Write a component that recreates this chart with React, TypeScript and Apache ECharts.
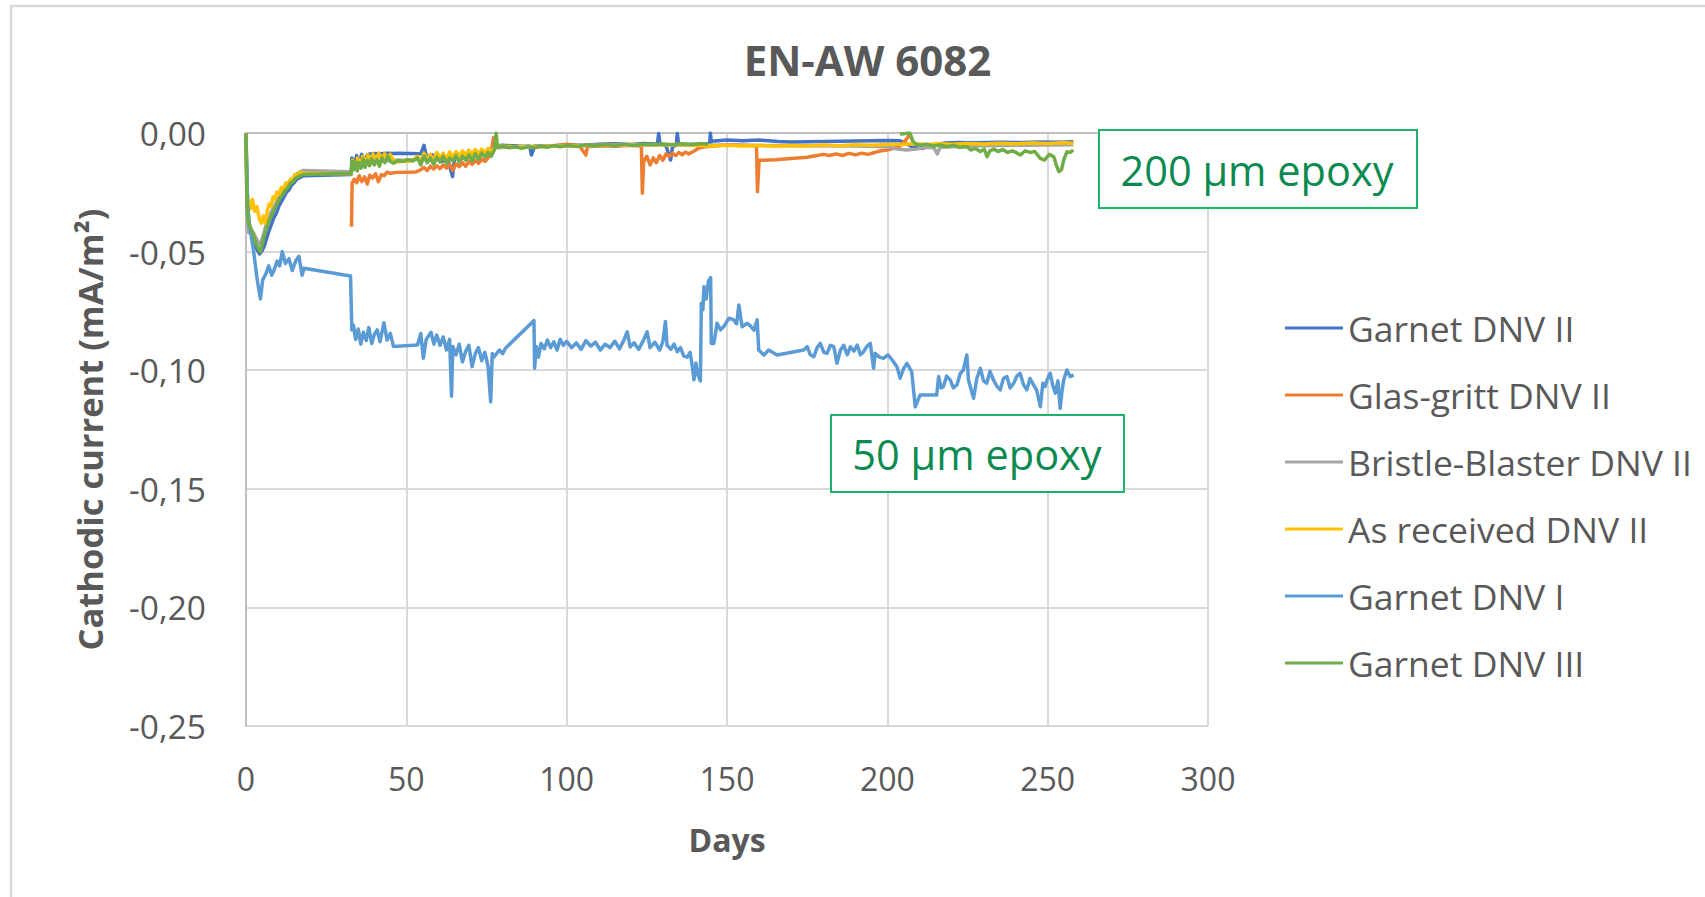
import React, { useEffect, useRef } from "react";
import * as echarts from "echarts";

const chartTitle = "EN-AW 6082";
const xAxisName = "Days";
const yAxisName = "Cathodic current (mA/m²)";
const seriesNames = [
  "Garnet DNV II",
  "Glas-gritt DNV II",
  "Bristle-Blaster DNV II",
  "As received DNV II",
  "Garnet DNV I",
  "Garnet DNV III",
];
const seriesColors = ["#4472c4", "#ed7d31", "#a5a5a5", "#ffc000", "#5b9bd5", "#70ad47"];
const annotationTexts = ["200 µm epoxy", "50 µm epoxy"];

// [day, mA/m²]
const garnetDnvII: (number | null)[][] = [
  [0, 0], [0.4, -0.032], [1, -0.04], [1.8, -0.043], [2.6, -0.047], [3.4, -0.049], [4.2, -0.051], [4.9, -0.05],
  [5.6, -0.048], [6.3, -0.045], [7, -0.042], [7.8, -0.039], [8.6, -0.036], [9.4, -0.034], [10.2, -0.031],
  [11, -0.029], [11.8, -0.027], [12.6, -0.025], [13.4, -0.024], [14.2, -0.022], [15, -0.021], [15.8, -0.0195],
  [16.6, -0.019], [17.5, -0.0182], [18.3, -0.018], [32.8, -0.0175],
  [33, -0.0105], [33.8, -0.0135], [34.5, -0.0095], [35.3, -0.0125], [36.1, -0.009], [37, -0.0118], [37.8, -0.0092],
  [38.6, -0.0088], [40, -0.0086], [42, -0.0087], [44, -0.0085], [46, -0.0086], [48, -0.0085], [50, -0.0086],
  [52, -0.0086], [54.5, -0.0088], [55.5, -0.0052], [56.2, -0.0095], [57.2, -0.011], [58.2, -0.0092], [59.2, -0.0115],
  [60.2, -0.0098], [61.2, -0.012], [62.2, -0.0102], [63.2, -0.0125], [64.4, -0.0184], [65, -0.0115], [66, -0.0098],
  [67, -0.0112], [68, -0.009], [69, -0.0105], [70, -0.0085], [71, -0.0098], [72, -0.008], [73, -0.0092], [74, -0.0078],
  [75, -0.0085], [76, -0.0072], [77, -0.0065], [78, -0.0055], [80, -0.0052], [85, -0.0055], [88.5, -0.0056],
  [89, -0.0093], [90, -0.0055], [95, -0.0056], [100, -0.005], [105, -0.0052], [110, -0.0047], [115, -0.0045],
  [120, -0.0048], [124, -0.0044], [127, -0.0046], [128.3, -0.0045], [128.7, -0.0002], [129.1, -0.0044], [131, -0.0055],
  [132.4, -0.0114], [133, -0.006], [134.2, -0.005], [134.5, -0.0002], [134.9, -0.0048], [137, -0.005], [140, -0.0047],
  [143, -0.0045], [144.6, -0.0046], [144.8, 0], [145.1, -0.0035], [150, -0.003], [155, -0.0033], [160, -0.003],
  [166, -0.0036], [170, -0.0038], [175, -0.0037], [180, -0.0036], [185, -0.0035], [190, -0.0034], [195, -0.0033],
  [200, -0.0032], [204, -0.0033], [206, -0.0045], [208, -0.006], [211, -0.0065], [214, -0.005], [218, -0.0042],
  [222, -0.004], [228, -0.0041], [235, -0.0039], [242, -0.004], [248, -0.0038], [254, -0.0039], [258, -0.0037],
];

const glasGritt: (number | null)[][] = [
  [32.9, -0.0395], [33.1, -0.021], [33.8, -0.0195], [34.5, -0.021], [35.3, -0.018], [36.1, -0.0205], [37, -0.0185],
  [37.8, -0.0215], [38.6, -0.0178], [39.5, -0.019], [40.4, -0.0172], [41.3, -0.0205], [42.2, -0.0175], [43.1, -0.018],
  [44, -0.0165], [45, -0.017], [47, -0.0166], [50, -0.0165], [53, -0.0164], [54.5, -0.0155], [55.5, -0.0145],
  [56.5, -0.0158], [57.5, -0.014], [58.5, -0.0152], [59.5, -0.0138], [60.5, -0.015], [61.5, -0.0135], [62.5, -0.0148],
  [63.5, -0.0132], [64.5, -0.0158], [65.5, -0.013], [66.5, -0.0142], [67.5, -0.0125], [68.5, -0.014], [69.5, -0.012],
  [70.5, -0.0132], [71.5, -0.0115], [72.5, -0.0128], [73.5, -0.011], [74.5, -0.012], [75.5, -0.0105], [76.5, -0.0075],
  [77.2, -0.002], [77.8, -0.004], [78.5, -0.0062], [80, -0.006], [85, -0.0058], [90, -0.006], [95, -0.0055],
  [100, -0.0047], [104, -0.0055], [106, -0.0093], [106.5, -0.0058], [110, -0.0054], [115, -0.0056], [120, -0.0052],
  [123.3, -0.0055], [123.6, -0.0254], [124, -0.012], [125, -0.0098], [126, -0.0135], [127, -0.0105], [128, -0.0125],
  [129, -0.0095], [130, -0.0115], [131, -0.0088], [132, -0.0098], [133, -0.0085], [134, -0.0095], [135, -0.0082],
  [136, -0.0092], [137, -0.008], [138, -0.0088], [139.5, -0.0078], [141, -0.0065], [143, -0.0058], [146, -0.0055],
  [150, -0.005], [155, -0.0052], [159.2, -0.0054], [159.5, -0.0247], [160, -0.0115], [165, -0.0113], [170, -0.0108],
  [175, -0.0102], [178, -0.0095], [180, -0.009], [182, -0.0095], [184, -0.0088], [186, -0.0095], [188, -0.0086],
  [190, -0.0092], [192, -0.0085], [194, -0.009], [196, -0.0082], [198, -0.0075], [200, -0.0072], [202, -0.0065],
  [204, -0.0055], [205.5, -0.0035], [207, -0.0005], [208, -0.004], [209, -0.005],
];

const bristleBlaster: (number | null)[][] = [
  [0, 0], [0.3, -0.035], [0.8, -0.042], [1.5, -0.041], [2.3, -0.042], [3, -0.044], [3.8, -0.046], [4.5, -0.047],
  [5.2, -0.044], [6, -0.04], [6.8, -0.037], [7.6, -0.034], [8.4, -0.032], [9.2, -0.03], [10, -0.028], [10.8, -0.026],
  [11.6, -0.024], [12.4, -0.023], [13.2, -0.021], [14, -0.02], [14.8, -0.019], [15.6, -0.0175], [16.4, -0.0168],
  [17.2, -0.0162], [17.8, -0.0158], [32.8, -0.0163], [33.2, -0.013], [35, -0.0125], [40, -0.012], [45, -0.0115],
  [50, -0.0115], [55, -0.011], [60, -0.0108], [65, -0.0105], [70, -0.0095], [75, -0.0085], [78, -0.006],
  [90, -0.0057], [110, -0.0053], [130, -0.005], [150, -0.0052], [170, -0.0054], [190, -0.0055], [200, -0.0058],
  [203, -0.0068], [206, -0.0072], [209, -0.0068], [212, -0.006], [214.5, -0.0062], [215.6, -0.0088], [216.5, -0.006],
  [225, -0.0055], [240, -0.0052], [258, -0.005],
];

const asReceived: (number | null)[][] = [
  [0, 0], [0.3, -0.025], [0.8, -0.029], [1.4, -0.032], [2, -0.028], [2.7, -0.033], [3.4, -0.031], [4.1, -0.036],
  [4.8, -0.038], [5.4, -0.035], [6, -0.038], [6.6, -0.033], [7.2, -0.03], [7.8, -0.031], [8.4, -0.027], [9, -0.028],
  [9.6, -0.025], [10.3, -0.026], [11, -0.023], [11.7, -0.024], [12.4, -0.021], [13.1, -0.022], [13.8, -0.0195],
  [14.5, -0.02], [15.2, -0.0175], [16, -0.018], [16.8, -0.0165], [17.6, -0.0168], [18.2, -0.017], [32.8, -0.0172],
  [33.2, -0.0115], [34, -0.015], [34.8, -0.0105], [35.6, -0.0138], [36.4, -0.0098], [37.2, -0.013], [38, -0.0092],
  [38.8, -0.0125], [39.6, -0.0088], [40.5, -0.0115], [41.4, -0.0085], [42.3, -0.011], [43.2, -0.0088], [44.1, -0.0105],
  [45, -0.009], [46, -0.0118], [47.5, -0.0122], [49, -0.0118], [50.5, -0.012], [52, -0.0115], [53.5, -0.0098],
  [54.5, -0.0125], [55.5, -0.0085], [56.5, -0.0115], [57.5, -0.009], [58.5, -0.012], [59.5, -0.0082], [60.5, -0.0105],
  [61.5, -0.0085], [62.5, -0.0112], [63.5, -0.008], [64.5, -0.0102], [65.5, -0.0078], [66.5, -0.0098], [67.5, -0.0075],
  [68.5, -0.0095], [69.5, -0.0072], [70.5, -0.009], [71.5, -0.007], [72.5, -0.0088], [73.5, -0.0068], [74.5, -0.0085],
  [75.5, -0.0065], [76.5, -0.008], [77.5, -0.006], [78.5, -0.0055], [85, -0.0058], [95, -0.0056], [105, -0.0053],
  [115, -0.0052], [125, -0.005], [135, -0.0049], [140, -0.0052], [145, -0.0055], [150, -0.0052], [155, -0.0055],
  [160, -0.0052], [165, -0.0056], [170, -0.0053], [175, -0.0055], [180, -0.0051], [185, -0.0054], [190, -0.005],
  [195, -0.0052], [200, -0.0049], [204, -0.0048], [209, -0.0045], [212, -0.0048], [216, -0.0045], [220, -0.0047],
  [225, -0.0044], [230, -0.0046], [235, -0.0043], [240, -0.0045], [245, -0.0042], [250, -0.0044], [255, -0.0041],
  [258, -0.0043],
];

const garnetDnvI: (number | null)[][] = [
  [0, -0.001], [0.5, -0.03], [1.2, -0.04], [2.3, -0.049], [3.4, -0.061], [4.5, -0.07], [5.2, -0.062], [6.3, -0.059],
  [7.1, -0.056], [8, -0.06], [8.7, -0.058], [9.7, -0.054], [10.5, -0.056], [11.3, -0.05], [12.3, -0.055], [13.4, -0.053],
  [14.4, -0.058], [15.5, -0.054], [16.5, -0.052], [17.5, -0.06], [18.1, -0.057], [32.6, -0.0603], [33, -0.083],
  [33.5, -0.081], [34.2, -0.087], [35, -0.0826], [35.8, -0.089], [36.6, -0.084], [37.5, -0.0875], [38.3, -0.082],
  [39.2, -0.0887], [40, -0.085], [40.9, -0.083], [41.8, -0.088], [43, -0.08], [44, -0.0873], [45, -0.0845], [46, -0.09],
  [53.5, -0.0894], [54.5, -0.0845], [55.3, -0.095], [56.2, -0.087], [57.7, -0.084], [58.6, -0.089], [59.5, -0.0852],
  [60.5, -0.0895], [61.5, -0.086], [62.5, -0.0915], [63.5, -0.087], [64.1, -0.111], [64.5, -0.09], [65.5, -0.0935],
  [66.5, -0.089], [67.5, -0.0965], [68.5, -0.092], [69.5, -0.0895], [70.5, -0.0985], [71.5, -0.093], [72.5, -0.0905],
  [73.5, -0.096], [74.5, -0.0925], [75.5, -0.0985], [76.3, -0.1133], [76.8, -0.093], [77.3, -0.0945], [79, -0.0915],
  [80, -0.093], [81, -0.0906], [89.8, -0.0791], [90, -0.0992], [90.5, -0.09], [91.2, -0.0945], [92, -0.0887],
  [93, -0.091], [94, -0.0873], [95, -0.0905], [96, -0.088], [97, -0.0915], [98, -0.087], [99, -0.0895], [100, -0.0878],
  [101.5, -0.0905], [103, -0.0885], [104.5, -0.0912], [106, -0.0875], [107.5, -0.0898], [109, -0.0882], [110.5, -0.0915],
  [112, -0.089], [113.5, -0.0905], [115, -0.0878], [116.5, -0.091], [118, -0.0868], [118.9, -0.0838], [119.8, -0.0902],
  [121, -0.0885], [122.5, -0.0912], [124, -0.0872], [125.1, -0.0838], [126, -0.0905], [127.5, -0.0882], [129, -0.0915],
  [130, -0.088], [130.8, -0.0795], [131.3, -0.0895], [132.5, -0.0912], [133.5, -0.089], [134.5, -0.0922], [135.5, -0.0905],
  [136.5, -0.094], [137.6, -0.0945], [138.5, -0.0925], [139.2, -0.0985], [139.7, -0.104], [140.3, -0.097], [141, -0.1022],
  [141.7, -0.1045], [142, -0.0718], [142.5, -0.0745], [142.8, -0.0647], [143.5, -0.07], [144.2, -0.0625], [144.9, -0.061],
  [145.1, -0.0886], [145.9, -0.0887], [146.9, -0.0802], [148, -0.083], [149, -0.0816], [150.6, -0.0781], [152.1, -0.0788],
  [153, -0.0805], [153.7, -0.0725], [154.7, -0.0817], [156.3, -0.0802], [157.4, -0.0815], [158.4, -0.0831], [159.4, -0.0788],
  [159.9, -0.0915], [161.5, -0.0936], [163, -0.0915], [165.6, -0.0936], [173.9, -0.0915], [175, -0.0901], [176, -0.0935],
  [177.1, -0.0943], [178.1, -0.0905], [179.1, -0.0887], [180.2, -0.0925], [181.2, -0.0929], [182.2, -0.0895],
  [183.3, -0.0901], [184.3, -0.0971], [185.4, -0.0915], [186.4, -0.0895], [187.5, -0.0935], [188.5, -0.0901],
  [189.6, -0.092], [190.6, -0.0894], [191.6, -0.0935], [192.6, -0.0922], [193.7, -0.0898], [194.7, -0.0887],
  [195.7, -0.0992], [196.2, -0.0929], [197.5, -0.0945], [198.8, -0.095], [200.2, -0.0935], [201.9, -0.0964],
  [203, -0.0985], [204, -0.1034], [205, -0.0995], [206.1, -0.0971], [207.6, -0.1006], [208.7, -0.1154], [210.2, -0.1105],
  [215.4, -0.1105], [216, -0.1027], [216.8, -0.1075], [217.5, -0.1069], [218.5, -0.1025], [219.6, -0.1041],
  [220.6, -0.1075], [221.7, -0.1062], [222.7, -0.1015], [223.7, -0.0999], [224.8, -0.0936], [225.3, -0.1041],
  [226.9, -0.1118], [227.9, -0.1035], [229, -0.0992], [230, -0.1045], [231, -0.1055], [232, -0.1005], [233.1, -0.1041],
  [234.2, -0.1068], [235.2, -0.1083], [236.2, -0.1035], [237.3, -0.1027], [238.3, -0.1075], [239.4, -0.1055],
  [240.4, -0.1025], [241.4, -0.1013], [242.5, -0.1062], [243.5, -0.1083], [244.5, -0.1035], [245.6, -0.1062],
  [246.6, -0.1085], [247.7, -0.1154], [248.5, -0.1055], [249.2, -0.1069], [250, -0.1035], [250.8, -0.1013],
  [251.6, -0.1065], [252.4, -0.1097], [253.2, -0.1045], [253.9, -0.1161], [254.5, -0.1085], [255, -0.1041],
  [256, -0.0999], [257, -0.1027], [258.1, -0.102],
];

const garnetDnvIII: (number | null)[][] = [
  [0, 0], [0.3, -0.03], [0.8, -0.038], [1.5, -0.04], [2.3, -0.043], [3.2, -0.047], [4, -0.049], [4.6, -0.05],
  [5.2, -0.046], [5.8, -0.043], [6.5, -0.04], [7.2, -0.037], [7.9, -0.035], [8.6, -0.033], [9.3, -0.031], [10, -0.029],
  [10.8, -0.027], [11.5, -0.026], [12.3, -0.024], [13.1, -0.023], [13.9, -0.021], [14.7, -0.0205], [15.5, -0.019],
  [16.3, -0.0185], [17.2, -0.0178], [18, -0.0175], [32.8, -0.017], [33.1, -0.012], [33.6, -0.0155], [34.1, -0.0118],
  [34.7, -0.016], [35.3, -0.0125], [35.9, -0.0148], [36.5, -0.011], [37.1, -0.0145], [37.8, -0.0115], [38.5, -0.0138],
  [39.2, -0.0108], [40, -0.0135], [40.8, -0.0112], [41.6, -0.014], [42.4, -0.0105], [43.3, -0.0125], [44.2, -0.0098],
  [45, -0.012], [46, -0.0128], [47.5, -0.0115], [49, -0.012], [50.5, -0.0112], [52, -0.0118], [53.5, -0.0105],
  [54.5, -0.0135], [55.5, -0.0098], [56.5, -0.0125], [57.5, -0.0105], [58.5, -0.0132], [59.5, -0.0102], [60.5, -0.0122],
  [61.5, -0.0098], [62.5, -0.0128], [63.5, -0.0105], [64.5, -0.0118], [65.5, -0.0095], [66.5, -0.0122], [67.5, -0.0098],
  [68.5, -0.0115], [69.5, -0.0092], [70.5, -0.0118], [71.5, -0.0088], [72.5, -0.011], [73.5, -0.0085], [74.5, -0.0102],
  [75.5, -0.0082], [76.5, -0.0098], [77.5, -0.007], [78, 0], [78.4, -0.006], [80, -0.0055], [82, -0.0062],
  [84, -0.0058], [86, -0.0065], [88, -0.0057], [90, -0.0062], [92, -0.0055], [94, -0.006], [96, -0.0053], [98, -0.0058],
  [100, -0.0052], [103, -0.0057], [106, -0.005], [109, -0.0055], [112, -0.0049], [115, -0.0054], [118, -0.0048],
  [121, -0.0053], [124, -0.0047], [127, -0.005], [130, -0.0046], [133, -0.0049], [136, -0.0045], [139, -0.0048],
  [142, -0.0044], [144, -0.0047], [145, null],
  [204, -0.0005], [205.5, -0.0002], [207, 0], [208, -0.0035], [209, -0.0048], [210.5, -0.0052], [212, -0.0047],
  [214.5, -0.0055], [216.5, -0.005], [218.5, -0.0058], [220.5, -0.0052], [222.5, -0.006], [224.9, -0.0058],
  [226, -0.0072], [227.5, -0.0065], [229, -0.0078], [230.2, -0.0068], [231.1, -0.01], [232, -0.0075], [233.2, -0.0068],
  [234.5, -0.0078], [236, -0.007], [237.5, -0.0082], [239, -0.0075], [240.5, -0.0085], [241.5, -0.0093], [243, -0.0075],
  [244.5, -0.0082], [246, -0.0078], [247.7, -0.0107], [249, -0.0114], [250.5, -0.009], [251.9, -0.01], [252.7, -0.0135],
  [253.5, -0.0163], [254.3, -0.0155], [255, -0.0114], [256, -0.0079], [257, -0.0082], [258, -0.0072],
];

const seriesData = [garnetDnvII, glasGritt, bristleBlaster, asReceived, garnetDnvI, garnetDnvIII];

const FONT = '"Open Sans", "Noto Sans", sans-serif';
const TEXT_GRAY = "#595959";

export default function App() {
  const ref = useRef<HTMLDivElement>(null);

  useEffect(() => {
    if (!ref.current) return;
    const chart = echarts.init(ref.current, undefined, { renderer: "svg" });
    const option = {
      animation: false,
      backgroundColor: "#ffffff",
      color: seriesColors,
      textStyle: { fontFamily: FONT },
      grid: { left: 246, top: 133, width: 962, height: 593, containLabel: false },
      xAxis: {
        type: "value",
        min: 0,
        max: 300,
        interval: 50,
        name: xAxisName,
        nameLocation: "middle",
        nameGap: 97,
        nameTextStyle: { fontSize: 32, fontWeight: "bold", color: TEXT_GRAY, fontFamily: FONT },
        axisLine: { show: true, lineStyle: { color: "#bfbfbf", width: 2 } },
        axisTick: { show: false },
        axisLabel: { fontSize: 32, color: TEXT_GRAY, margin: 36, fontFamily: FONT },
        splitLine: { show: true, lineStyle: { color: "#d9d9d9", width: 2 } },
      },
      yAxis: {
        type: "value",
        min: -0.25,
        max: 0,
        interval: 0.05,
        name: yAxisName,
        nameLocation: "middle",
        nameRotate: 90,
        nameGap: 139,
        nameTextStyle: { fontSize: 34.5, fontWeight: "bold", color: TEXT_GRAY, fontFamily: FONT },
        axisLine: { show: true, onZero: false, lineStyle: { color: "#bfbfbf", width: 2 } },
        axisTick: { show: false },
        axisLabel: {
          fontSize: 33.5,
          color: TEXT_GRAY,
          margin: 40,
          fontFamily: FONT,
          formatter: (v: number) => v.toFixed(2).replace(".", ","),
        },
        splitLine: { show: true, lineStyle: { color: "#d9d9d9", width: 2 } },
      },
      legend: {
        orient: "vertical",
        left: 1285,
        top: 308,
        padding: 0,
        icon: "rect",
        itemWidth: 58,
        itemHeight: 3,
        itemGap: 27,
        data: seriesNames,
        textStyle: { fontSize: 35.5, lineHeight: 40, color: TEXT_GRAY, fontFamily: FONT },
      },
      graphic: [
        {
          type: "rect",
          z: 0,
          silent: true,
          shape: { x: 11, y: 6, width: 1800, height: 1000 },
          style: { fill: "none", stroke: "#d9d9d9", lineWidth: 2.5 },
        },
        {
          type: "text",
          z: 100,
          style: {
            text: chartTitle,
            x: 867.5,
            y: 59,
            align: "center",
            verticalAlign: "middle",
            fontSize: 42,
            fontWeight: "bold",
            fontFamily: FONT,
            fill: TEXT_GRAY,
          },
        },
        {
          type: "rect",
          z: 100,
          shape: { x: 1099, y: 130, width: 318, height: 78 },
          style: { fill: "#ffffff", stroke: "#1db36b", lineWidth: 2 },
        },
        {
          type: "text",
          z: 101,
          style: {
            text: annotationTexts[0],
            x: 1257,
            y: 170,
            align: "center",
            verticalAlign: "middle",
            fontSize: 41.5,
            fontFamily: FONT,
            fill: "#0d8a50",
          },
        },
        {
          type: "rect",
          z: 100,
          shape: { x: 831, y: 415, width: 293, height: 77 },
          style: { fill: "#ffffff", stroke: "#1db36b", lineWidth: 2 },
        },
        {
          type: "text",
          z: 101,
          style: {
            text: annotationTexts[1],
            x: 977,
            y: 454,
            align: "center",
            verticalAlign: "middle",
            fontSize: 41.5,
            fontFamily: FONT,
            fill: "#0d8a50",
          },
        },
      ],
      series: seriesNames.map((name, i) => ({
        name,
        type: "line",
        data: seriesData[i],
        showSymbol: false,
        symbol: "none",
        connectNulls: false,
        lineStyle: { width: 3.5, color: seriesColors[i], join: "round" },
        itemStyle: { color: seriesColors[i] },
        z: 2 + i,
      })),
    };
    chart.setOption(option);
    return () => chart.dispose();
  }, []);

  return (
    <div
      ref={ref}
      style={{ position: "fixed", left: 0, top: 0, width: 1705, height: 897, background: "#ffffff" }}
    />
  );
}
